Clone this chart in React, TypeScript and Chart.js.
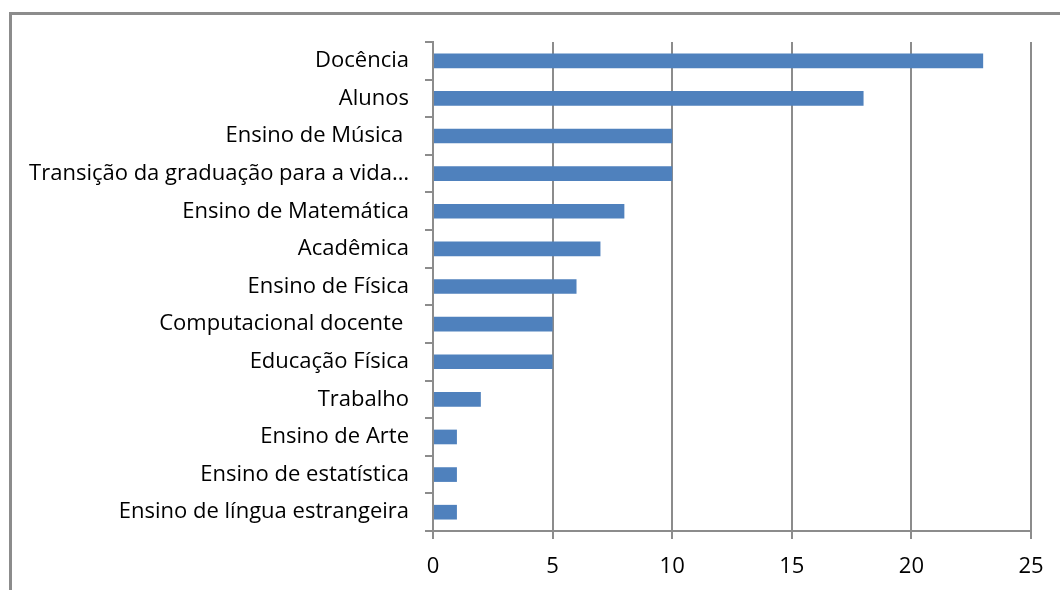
import React, { useEffect, useRef } from "react";
import { Chart, registerables } from "chart.js";

Chart.register(...registerables);

const categories = [
  "Docência",
  "Alunos",
  "Ensino de Música ",
  "Transição da graduação para a vida…",
  "Ensino de Matemática",
  "Acadêmica",
  "Ensino de Física",
  "Computacional docente ",
  "Educação Física",
  "Trabalho",
  "Ensino de Arte",
  "Ensino de estatística",
  "Ensino de língua estrangeira",
];
const values = [23, 18, 10, 10, 8, 7, 6, 5, 5, 2, 1, 1, 1];
const xTicks = [0, 5, 10, 15, 20, 25];

const FONT = "'Open Sans', sans-serif";
const GRID = "#8c8c8c";

export default function App() {
  const ref = useRef<HTMLCanvasElement>(null);
  useEffect(() => {
    if (!ref.current) return;
    const chart = new Chart(ref.current, {
      type: "bar",
      data: {
        labels: categories,
        datasets: [
          {
            data: values,
            backgroundColor: "#4f81bd",
            barPercentage: 0.39,
            categoryPercentage: 1,
          },
        ],
      },
      options: {
        indexAxis: "y",
        animation: false,
        responsive: false,
        maintainAspectRatio: false,
        layout: { padding: { left: 0, right: 29, top: 42, bottom: 0 } },
        plugins: { legend: { display: false }, tooltip: { enabled: false } },
        scales: {
          x: {
            min: 0,
            max: 25,
            afterBuildTicks: (axis: any) => {
              axis.ticks = xTicks.map((v) => ({ value: v }));
            },
            afterFit: (axis: any) => {
              axis.height = 59;
            },
            grid: {
              color: GRID,
              lineWidth: 2,
              drawTicks: true,
              tickLength: 8,
              tickColor: GRID,
            },
            border: { color: GRID, width: 2 },
            ticks: {
              color: "#000",
              font: { family: FONT, size: 22 },
              padding: 15,
            },
          },
          y: {
            afterFit: (axis: any) => {
              axis.width = 433;
            },
            grid: {
              drawOnChartArea: false,
              drawTicks: true,
              tickLength: 8,
              tickColor: GRID,
              lineWidth: 2,
              offset: true,
            },
            border: { color: GRID, width: 2 },
            ticks: {
              color: "#000",
              font: { family: FONT, size: 22 },
              padding: 16,
              autoSkip: false,
            },
          },
        },
      },
    });
    return () => chart.destroy();
  }, []);
  return (
    <div style={{ position: "absolute", left: 0, top: 0, width: 1060, height: 590, background: "#fff", overflow: "hidden" }}>
      <div
        style={{
          position: "absolute",
          left: 9,
          top: 12,
          width: 1100,
          height: 700,
          borderTop: "3px solid #8c8c8c",
          borderLeft: "3px solid #8c8c8c",
        }}
      />
      <canvas ref={ref} width={1060} height={590} style={{ position: "absolute", left: 0, top: 0 }} />
    </div>
  );
}
